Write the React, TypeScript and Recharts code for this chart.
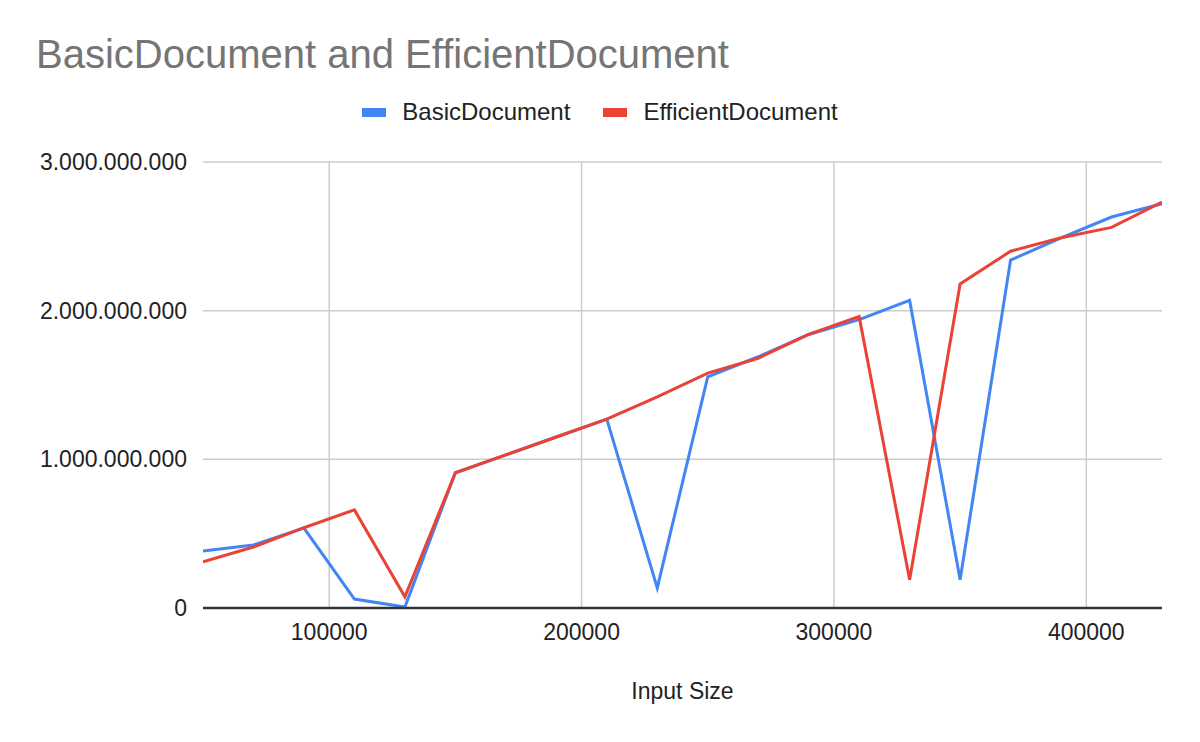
import {
  CartesianGrid,
  Label,
  Line,
  LineChart,
  ReferenceLine,
  XAxis,
  YAxis,
} from "recharts";

const inputSizes = [
  50000, 70000, 90000, 110000, 130000, 150000, 170000, 190000, 210000, 230000,
  250000, 270000, 290000, 310000, 330000, 350000, 370000, 390000, 410000, 430000,
];

const basicValues = [
  383e6, 424e6, 538e6, 60e6, 7e6, 910e6, 1030e6, 1150e6, 1270e6, 135e6,
  1555e6, 1690e6, 1840e6, 1940e6, 2070e6, 190e6, 2340e6, 2490e6, 2630e6, 2720e6,
];

const efficientValues = [
  310e6, 410e6, 540e6, 660e6, 75e6, 910e6, 1030e6, 1150e6, 1270e6, 1420e6,
  1580e6, 1680e6, 1840e6, 1960e6, 190e6, 2180e6, 2400e6, 2490e6, 2560e6, 2730e6,
];

const xTicks = [100000, 200000, 300000, 400000];
const yTicks = [0, 1e9, 2e9, 3e9];

const BLUE = "#4285F4";
const RED = "#EA4335";
const FONT = "'Liberation Sans', Arial, sans-serif";

const data = inputSizes.map((size, i) => ({
  size,
  BasicDocument: basicValues[i],
  EfficientDocument: efficientValues[i],
}));

const formatDots = (v: number) =>
  Math.round(v)
    .toString()
    .replace(/\B(?=(\d{3})+(?!\d))/g, ".");

function LegendItem({ color, label }: { color: string; label: string }) {
  return (
    <div style={{ display: "flex", alignItems: "center" }}>
      <div style={{ width: 24, height: 9, background: color, marginRight: 16 }} />
      <span style={{ fontSize: 24, lineHeight: 1, color: "#222" }}>{label}</span>
    </div>
  );
}

export default function App() {
  return (
    <div
      style={{
        position: "absolute",
        left: 0,
        top: 0,
        width: 1200,
        height: 742,
        background: "#fff",
        fontFamily: FONT,
      }}
    >
      <div
        style={{
          position: "absolute",
          left: 36,
          top: 34,
          fontSize: 40,
          lineHeight: 1,
          color: "#757575",
          whiteSpace: "nowrap",
        }}
      >
        BasicDocument and EfficientDocument
      </div>
      <div
        style={{
          position: "absolute",
          left: 0,
          top: 100,
          width: 1200,
          display: "flex",
          justifyContent: "center",
          gap: 33,
        }}
      >
        <LegendItem color={BLUE} label="BasicDocument" />
        <LegendItem color={RED} label="EfficientDocument" />
      </div>
      <LineChart
        width={1200}
        height={742}
        data={data}
        margin={{ top: 162, right: 38, bottom: 0, left: 0 }}
      >
        <CartesianGrid stroke="#cccccc" strokeWidth={1.5} vertical={false} />
        {xTicks.map((t) => (
          <ReferenceLine key={t} x={t} stroke="#cccccc" strokeWidth={1.5} />
        ))}
        <XAxis
          dataKey="size"
          type="number"
          domain={[50000, 430000]}
          ticks={xTicks}
          allowDataOverflow
          height={134}
          tickLine={false}
          tickMargin={10}
          axisLine={{ stroke: "#333333", strokeWidth: 2.5 }}
          tick={{ fill: "#222", fontSize: 23, fontFamily: FONT }}
        >
          <Label
            value="Input Size"
            position="insideBottom"
            offset={43}
            style={{ fill: "#222", fontSize: 23, fontFamily: FONT }}
          />
        </XAxis>
        <YAxis
          type="number"
          domain={[0, 3e9]}
          ticks={yTicks}
          width={203}
          tickLine={false}
          axisLine={false}
          tickMargin={10}
          tickFormatter={formatDots}
          tick={{ fill: "#222", fontSize: 23, fontFamily: FONT }}
        />
        <Line
          type="linear"
          dataKey="BasicDocument"
          stroke={BLUE}
          strokeWidth={3}
          dot={false}
          isAnimationActive={false}
        />
        <Line
          type="linear"
          dataKey="EfficientDocument"
          stroke={RED}
          strokeWidth={3}
          dot={false}
          isAnimationActive={false}
        />
      </LineChart>
    </div>
  );
}
